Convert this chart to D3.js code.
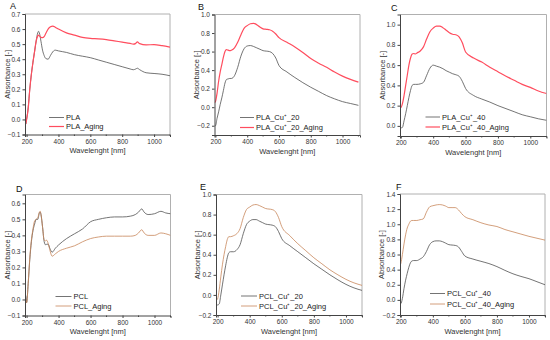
<!DOCTYPE html>
<html>
<head>
<meta charset="utf-8">
<script src="https://cdn.jsdelivr.net/npm/d3@7"></script>
<style>
  body { margin: 0; background: #fff; }
  text { font-family: "Liberation Sans", Arial, sans-serif; }
</style>
</head>
<body>
<svg id="chart" width="550" height="340"></svg>
<script>
// Spectra (wavelength in nm, absorbance)
const wlA = [190,195,200,210,220,230,240,250,260,270,275,280,290,300,310,320,335,350,365,380,400,450,500,550,600,650,700,750,800,850,870,885,895,910,950,1000,1050,1100];
const plaA = [0.0,-0.03,0.0,0.08,0.2,0.3,0.38,0.45,0.52,0.575,0.585,0.575,0.52,0.46,0.425,0.405,0.40,0.425,0.45,0.46,0.455,0.445,0.43,0.42,0.41,0.395,0.38,0.365,0.35,0.335,0.33,0.335,0.34,0.33,0.31,0.305,0.3,0.29];
const plaAgingA = [-0.02,-0.03,0.0,0.07,0.2,0.3,0.38,0.45,0.52,0.555,0.56,0.555,0.545,0.543,0.55,0.57,0.6,0.615,0.62,0.612,0.6,0.575,0.56,0.545,0.538,0.535,0.53,0.522,0.513,0.505,0.5,0.505,0.515,0.503,0.495,0.497,0.49,0.48];

const wlB = [195,200,210,220,230,240,250,260,270,280,290,300,320,340,360,380,400,420,440,460,480,500,520,540,560,580,600,650,700,750,800,850,900,950,1000,1050,1100];
const plaCu20 = [-0.2,-0.2,-0.12,-0.05,0.03,0.1,0.18,0.26,0.3,0.305,0.31,0.31,0.34,0.43,0.55,0.63,0.66,0.665,0.655,0.64,0.625,0.61,0.605,0.6,0.58,0.53,0.45,0.38,0.32,0.265,0.215,0.17,0.125,0.09,0.06,0.04,0.02];
const plaCu20Aging = [0.05,0.06,0.15,0.28,0.38,0.46,0.54,0.6,0.62,0.615,0.61,0.615,0.64,0.7,0.78,0.85,0.88,0.9,0.905,0.89,0.865,0.845,0.84,0.835,0.82,0.79,0.75,0.7,0.65,0.59,0.525,0.475,0.43,0.38,0.335,0.3,0.27];

const wlC = [195,200,210,220,230,240,250,260,270,280,290,300,320,340,360,380,400,420,440,460,480,500,520,540,560,580,600,650,700,750,800,850,900,950,1000,1050,1100];
const plaCu40 = [-0.02,-0.02,-0.015,0.05,0.12,0.2,0.28,0.35,0.4,0.41,0.41,0.41,0.415,0.43,0.5,0.57,0.6,0.59,0.58,0.565,0.545,0.53,0.515,0.505,0.49,0.44,0.37,0.3,0.265,0.235,0.2,0.17,0.14,0.11,0.09,0.07,0.055];
const plaCu40Aging = [0.18,0.18,0.22,0.3,0.4,0.5,0.6,0.67,0.71,0.715,0.71,0.72,0.74,0.78,0.86,0.93,0.965,0.985,0.985,0.97,0.945,0.92,0.905,0.9,0.88,0.82,0.73,0.67,0.63,0.58,0.535,0.49,0.45,0.41,0.38,0.345,0.32];

const wlD = [190,195,200,210,220,230,240,250,260,270,280,285,290,300,310,320,325,335,345,360,380,400,450,500,550,600,650,700,750,800,850,880,900,920,935,960,1000,1040,1070,1100];
const pclD = [0.03,0.02,-0.02,0.1,0.25,0.36,0.43,0.47,0.5,0.5,0.54,0.545,0.53,0.45,0.36,0.34,0.345,0.345,0.32,0.295,0.32,0.34,0.38,0.41,0.44,0.485,0.5,0.51,0.515,0.515,0.52,0.53,0.545,0.565,0.545,0.53,0.535,0.55,0.54,0.535];
const pclAgingD = [0.02,0.0,-0.02,0.1,0.26,0.37,0.44,0.49,0.5,0.51,0.545,0.55,0.53,0.45,0.37,0.365,0.37,0.35,0.31,0.27,0.285,0.3,0.32,0.335,0.36,0.38,0.39,0.395,0.395,0.395,0.395,0.4,0.415,0.435,0.415,0.4,0.4,0.415,0.41,0.4];

const wlE = [195,200,210,220,230,240,250,260,270,280,300,320,340,360,380,400,420,440,460,480,500,520,540,560,580,600,650,700,750,800,850,900,950,1000,1050,1100];
const pclCu20 = [-0.1,-0.1,-0.09,0.0,0.1,0.2,0.29,0.37,0.42,0.43,0.43,0.45,0.5,0.61,0.7,0.735,0.75,0.75,0.735,0.72,0.705,0.7,0.695,0.68,0.63,0.56,0.49,0.43,0.37,0.31,0.255,0.2,0.15,0.105,0.07,0.045];
const pclCu20Aging = [-0.05,-0.04,0.05,0.18,0.3,0.4,0.48,0.55,0.58,0.58,0.59,0.61,0.66,0.77,0.85,0.875,0.895,0.9,0.89,0.875,0.86,0.855,0.85,0.83,0.77,0.68,0.59,0.51,0.44,0.37,0.31,0.25,0.2,0.155,0.12,0.095];

const wlF = [195,200,210,220,230,240,250,260,270,280,300,320,340,360,380,400,420,440,460,480,500,520,540,560,580,600,650,700,750,800,850,900,950,1000,1050,1100];
const pclCu40 = [-0.05,-0.05,0.02,0.15,0.26,0.35,0.43,0.49,0.515,0.52,0.52,0.54,0.57,0.64,0.73,0.77,0.78,0.78,0.77,0.75,0.73,0.725,0.72,0.7,0.64,0.58,0.54,0.51,0.48,0.44,0.39,0.345,0.31,0.28,0.24,0.2];
const pclCu40Aging = [0.45,0.48,0.6,0.74,0.86,0.95,1.0,1.04,1.05,1.05,1.05,1.06,1.07,1.16,1.23,1.245,1.255,1.26,1.255,1.24,1.22,1.22,1.22,1.19,1.14,1.1,1.06,1.02,0.99,0.97,0.93,0.9,0.87,0.84,0.815,0.79];

const xTicks = [200, 400, 600, 800, 1000];
const xMinor = [300, 500, 700, 900, 1100];

const grey = '#505050';
const red = '#ff4d5e';
const tan = '#c8875a';

const panels = [
  { tag: 'A', x0: 25, x1: 170, y0: 14, y1: 134.5, xd: [190, 1100], yd: [-0.1, 0.7],
    yTicks: [-0.1, 0, 0.1, 0.2, 0.3, 0.4, 0.5, 0.6, 0.7], tagPos: [10, 9], titleX: 7,
    wl: wlA, series: [{ name: 'PLA', v: plaA, c: grey, w: 0.8 }, { name: 'PLA_Aging', v: plaAgingA, c: red, w: 1.2 }],
    leg: [49, 64, 117.5, 126.5] },
  { tag: 'B', x0: 214.5, x1: 360, y0: 14.5, y1: 135, xd: [194, 1110], yd: [-0.3, 1.0],
    yTicks: [-0.2, 0, 0.2, 0.4, 0.6, 0.8, 1.0], tagPos: [198, 10], titleX: 196,
    wl: wlB, series: [{ name: 'PLA_Cu⁺_20', v: plaCu20, c: grey, w: 0.8 }, { name: 'PLA_Cu⁺_20_Aging', v: plaCu20Aging, c: red, w: 1.2 }],
    leg: [240, 254, 117.5, 127.5] },
  { tag: 'C', x0: 400, x1: 546.5, y0: 14.5, y1: 136, xd: [195, 1100], yd: [-0.1, 1.1],
    yTicks: [0, 0.2, 0.4, 0.6, 0.8, 1.0], tagPos: [391, 11], titleX: 382,
    wl: wlC, series: [{ name: 'PLA_Cu⁺_40', v: plaCu40, c: grey, w: 0.8 }, { name: 'PLA_Cu⁺_40_Aging', v: plaCu40Aging, c: red, w: 1.2 }],
    leg: [425.5, 440, 117, 127] },
  { tag: 'D', x0: 25, x1: 170.5, y0: 194.5, y1: 315.5, xd: [190, 1100], yd: [-0.1, 0.655],
    yTicks: [-0.1, 0, 0.1, 0.2, 0.3, 0.4, 0.5, 0.6], tagPos: [16, 192], titleX: 7,
    wl: wlD, series: [{ name: 'PCL', v: pclD, c: grey, w: 0.8 }, { name: 'PCL_Aging', v: pclAgingD, c: tan, w: 0.8 }],
    leg: [55.5, 71.5, 296.5, 306] },
  { tag: 'E', x0: 216, x1: 362, y0: 194.5, y1: 315, xd: [190, 1100], yd: [-0.2, 1.0],
    yTicks: [-0.2, 0, 0.2, 0.4, 0.6, 0.8, 1.0], tagPos: [200, 190], titleX: 197,
    wl: wlE, series: [{ name: 'PCL_Cu⁺_20', v: pclCu20, c: grey, w: 0.8 }, { name: 'PCL_Cu⁺_20_Aging', v: pclCu20Aging, c: tan, w: 0.8 }],
    leg: [241, 257, 296, 306] },
  { tag: 'F', x0: 400, x1: 545, y0: 194, y1: 315, xd: [195, 1100], yd: [-0.2, 1.4],
    yTicks: [-0.2, 0, 0.2, 0.4, 0.6, 0.8, 1.0, 1.2, 1.4], tagPos: [396, 190], titleX: 381,
    wl: wlF, series: [{ name: 'PCL_Cu⁺_40', v: pclCu40, c: grey, w: 0.8 }, { name: 'PCL_Cu⁺_40_Aging', v: pclCu40Aging, c: tan, w: 0.8 }],
    leg: [430, 445, 293.5, 304] }
];

const svg = d3.select('#chart');

panels.forEach(p => {
  const x = d3.scaleLinear().domain(p.xd).range([p.x0, p.x1]);
  const y = d3.scaleLinear().domain(p.yd).range([p.y1, p.y0]);
  const g = svg.append('g');

  // light frame on top and right
  g.append('path')
    .attr('d', `M${p.x0},${p.y0}H${p.x1}V${p.y1}`)
    .attr('fill', 'none').attr('stroke', '#b0b0b0').attr('stroke-width', 1);

  const clipId = 'clip' + p.tag;
  svg.append('clipPath').attr('id', clipId)
    .append('rect').attr('x', p.x0).attr('y', p.y0 - 2).attr('width', p.x1 - p.x0).attr('height', p.y1 - p.y0 + 2);

  const line = d3.line().curve(d3.curveMonotoneX);
  p.series.forEach(s => {
    g.append('path')
      .attr('clip-path', `url(#${clipId})`)
      .attr('d', line(p.wl.map((w, i) => [x(w), y(s.v[i])])))
      .attr('fill', 'none').attr('stroke', s.c).attr('stroke-width', s.w)
      .attr('stroke-linejoin', 'round');
  });

  // axes
  const xAxis = g.append('g').attr('transform', `translate(0,${p.y1})`)
    .call(d3.axisBottom(x).tickValues(xTicks).tickSize(2.5).tickPadding(2).tickFormat(d3.format('d')));
  xAxis.append('g').selectAll('line').data(xMinor).join('line')
    .attr('x1', d => x(d)).attr('x2', d => x(d)).attr('y1', 0).attr('y2', 1.5).attr('stroke', '#444');

  const yAxis = g.append('g').attr('transform', `translate(${p.x0},0)`)
    .call(d3.axisLeft(y).tickValues(p.yTicks).tickSize(2.5).tickPadding(2).tickFormat(d3.format('.1f')));

  [xAxis, yAxis].forEach(a => {
    a.select('.domain').attr('stroke', '#444').attr('stroke-width', 1);
    a.selectAll('.tick line').attr('stroke', '#444');
    a.selectAll('.tick text').attr('fill', '#333').style('font-size', '6.5px');
  });

  // titles
  g.append('text').attr('x', (p.x0 + p.x1) / 2).attr('y', p.y1 + 18.5)
    .attr('text-anchor', 'middle').attr('fill', '#333').style('font-size', '7.5px')
    .text('Wavelenght [nm]');
  g.append('text').attr('transform', `translate(${p.titleX},${(p.y0 + p.y1) / 2}) rotate(-90)`)
    .attr('text-anchor', 'middle').attr('dy', '0.35em').attr('fill', '#333').style('font-size', '7.5px')
    .text('Absorbance [-]');
  g.append('text').attr('x', p.tagPos[0]).attr('y', p.tagPos[1])
    .attr('fill', '#111').style('font-size', '9px').text(p.tag);

  // legend
  p.series.forEach((s, i) => {
    const ly = p.leg[2 + i];
    g.append('line').attr('x1', p.leg[0]).attr('x2', p.leg[1]).attr('y1', ly).attr('y2', ly)
      .attr('stroke', s.c).attr('stroke-width', s.w);
    g.append('text').attr('x', p.leg[1] + 2).attr('y', ly).attr('dy', '0.35em')
      .attr('fill', '#222').style('font-size', '7.5px').text(s.name);
  });
});
</script>
</body>
</html>
